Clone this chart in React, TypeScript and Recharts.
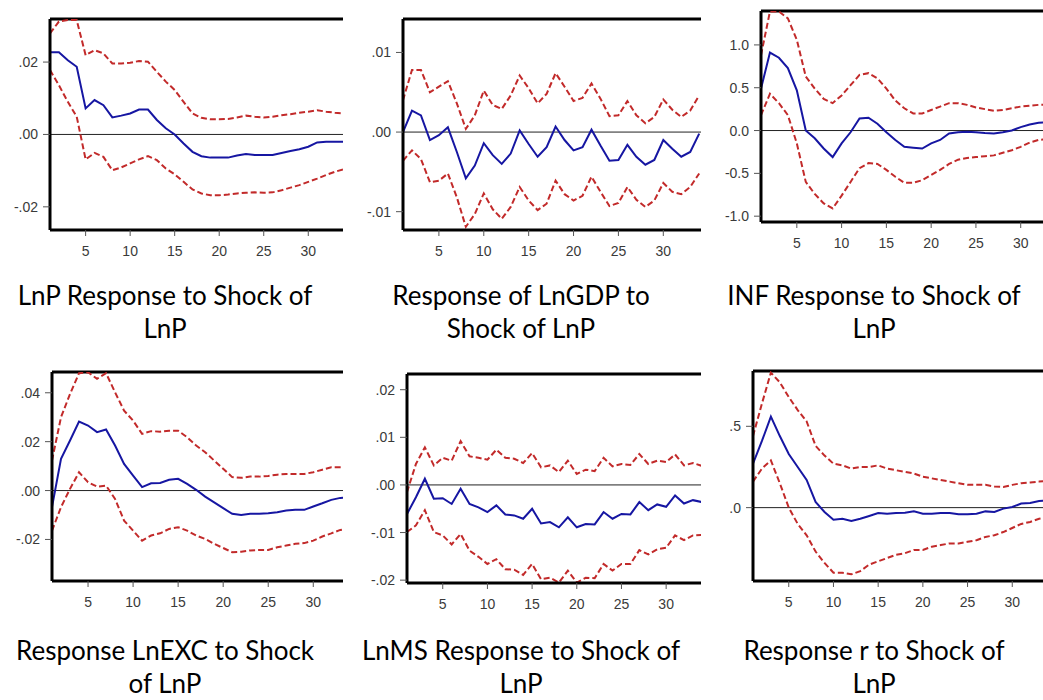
import { LineChart, Line, XAxis, YAxis, ReferenceLine } from 'recharts';

const X_TICKS = [5, 10, 15, 20, 25, 30];

// LnP response to LnP
const lnpMid = [0.0227, 0.0227, 0.0205, 0.0187, 0.0072, 0.0095, 0.0081, 0.0047, 0.0052, 0.0058, 0.0069, 0.0069, 0.004, 0.0017, 0.0, -0.0025, -0.0048, -0.006, -0.0064, -0.0064, -0.0064, -0.0058, -0.0054, -0.0057, -0.0057, -0.0057, -0.0051, -0.0046, -0.0041, -0.0034, -0.0022, -0.002, -0.002, -0.002];
const lnpUp = [0.0279, 0.0312, 0.0316, 0.0316, 0.0219, 0.0233, 0.0224, 0.0196, 0.0196, 0.0198, 0.0203, 0.0201, 0.0173, 0.0146, 0.0123, 0.009, 0.0058, 0.0046, 0.0042, 0.0042, 0.0043, 0.0047, 0.0052, 0.0049, 0.0047, 0.0049, 0.0053, 0.0056, 0.006, 0.0063, 0.0067, 0.0063, 0.006, 0.0058];
const lnpLo = [0.0178, 0.0136, 0.009, 0.0049, -0.0069, -0.0051, -0.0062, -0.0099, -0.0091, -0.008, -0.0069, -0.006, -0.0071, -0.0094, -0.011, -0.0131, -0.0152, -0.0163, -0.0168, -0.0168, -0.0166, -0.0163, -0.0161, -0.016, -0.0161, -0.016, -0.0154, -0.0147, -0.014, -0.0131, -0.0122, -0.0112, -0.0103, -0.0096];

// LnGDP response to LnP
const gdpMid = [0.0, 0.0027, 0.0021, -0.001, -0.0004, 0.0006, -0.0025, -0.0058, -0.0042, -0.0014, -0.0029, -0.004, -0.0027, 0.0002, -0.0015, -0.0031, -0.0019, 0.0007, -0.001, -0.0023, -0.0019, 0.0003, -0.0017, -0.0036, -0.0035, -0.0016, -0.0031, -0.0041, -0.0035, -0.001, -0.0021, -0.0031, -0.0025, -0.0002];
const gdpUp = [0.004, 0.0078, 0.0078, 0.005, 0.0057, 0.0064, 0.0036, 0.0004, 0.0021, 0.0052, 0.0034, 0.0029, 0.0046, 0.0071, 0.0055, 0.0036, 0.0048, 0.0074, 0.0057, 0.0039, 0.0043, 0.0061, 0.0042, 0.002, 0.0021, 0.0039, 0.0021, 0.0011, 0.0019, 0.0041, 0.0028, 0.0019, 0.0027, 0.0046];
const gdpLo = [-0.0036, -0.0023, -0.0034, -0.0063, -0.0061, -0.0052, -0.0082, -0.0119, -0.0103, -0.0077, -0.0097, -0.0109, -0.0094, -0.0069, -0.0086, -0.0098, -0.009, -0.0061, -0.0078, -0.0086, -0.008, -0.0056, -0.0075, -0.0093, -0.0089, -0.0069, -0.0085, -0.0094, -0.0086, -0.0064, -0.0075, -0.0078, -0.0069, -0.0052];

// INF response to LnP
const infMid = [0.49, 0.91, 0.85, 0.73, 0.47, 0.0, -0.09, -0.21, -0.31, -0.15, -0.02, 0.14, 0.15, 0.08, -0.02, -0.11, -0.19, -0.2, -0.21, -0.15, -0.11, -0.035, -0.02, -0.015, -0.02, -0.03, -0.035, -0.02, 0.0, 0.04, 0.07, 0.09, 0.1];
const infUp = [0.88, 1.39, 1.39, 1.31, 1.06, 0.63, 0.49, 0.37, 0.32, 0.41, 0.53, 0.65, 0.67, 0.61, 0.49, 0.35, 0.26, 0.2, 0.2, 0.24, 0.28, 0.32, 0.32, 0.3, 0.27, 0.25, 0.23, 0.24, 0.26, 0.28, 0.29, 0.3, 0.3];
const infLo = [0.18, 0.43, 0.32, 0.18, -0.15, -0.6, -0.74, -0.85, -0.91, -0.76, -0.6, -0.44, -0.38, -0.39, -0.46, -0.54, -0.61, -0.61, -0.58, -0.52, -0.46, -0.39, -0.34, -0.32, -0.31, -0.3, -0.29, -0.26, -0.23, -0.19, -0.14, -0.11, -0.1];

// LnEXC response to LnP
const excMid = [-0.0068, 0.013, 0.0205, 0.0282, 0.0266, 0.0239, 0.025, 0.0184, 0.0109, 0.0061, 0.0014, 0.003, 0.0031, 0.0044, 0.0048, 0.0027, 0.0003, -0.0025, -0.0048, -0.0072, -0.0095, -0.01, -0.0095, -0.0095, -0.0093, -0.0089, -0.0082, -0.0079, -0.0079, -0.0065, -0.0052, -0.0038, -0.003, -0.0027];
const excUp = [0.0123, 0.03, 0.0395, 0.048, 0.0484, 0.0457, 0.048, 0.0402, 0.0327, 0.0286, 0.0232, 0.0243, 0.0241, 0.0245, 0.0245, 0.0218, 0.0184, 0.0157, 0.0123, 0.0089, 0.0055, 0.0052, 0.0057, 0.0057, 0.006, 0.0065, 0.0068, 0.0068, 0.0068, 0.0075, 0.0085, 0.0095, 0.0095, 0.0095];
const excLo = [-0.0164, -0.0068, 0.0007, 0.0075, 0.0034, 0.0016, 0.002, -0.0034, -0.0123, -0.0164, -0.0205, -0.0184, -0.0175, -0.0157, -0.015, -0.0164, -0.0184, -0.0198, -0.0218, -0.0235, -0.0252, -0.025, -0.0245, -0.0243, -0.0243, -0.0232, -0.0225, -0.0218, -0.0215, -0.0205, -0.0188, -0.0175, -0.0161, -0.0155];

// LnMS response to LnP
const msMid = [-0.0061, -0.0026, 0.0013, -0.0029, -0.0028, -0.004, -0.0008, -0.004, -0.0047, -0.0057, -0.0043, -0.0062, -0.0064, -0.0071, -0.005, -0.0081, -0.0078, -0.0089, -0.0068, -0.0089, -0.0082, -0.0083, -0.0057, -0.0071, -0.0061, -0.0062, -0.0036, -0.0053, -0.0041, -0.0046, -0.0022, -0.0039, -0.0032, -0.0036];
const msUp = [-0.0015, 0.0044, 0.0079, 0.0041, 0.0057, 0.0051, 0.0092, 0.006, 0.0057, 0.0053, 0.0074, 0.0057, 0.0055, 0.0046, 0.0067, 0.0037, 0.0041, 0.0027, 0.0051, 0.0023, 0.0032, 0.0029, 0.0057, 0.0039, 0.0044, 0.0042, 0.0065, 0.0044, 0.0051, 0.0048, 0.0064, 0.0041, 0.0046, 0.004];
const msLo = [-0.0099, -0.0085, -0.0053, -0.0099, -0.0106, -0.0125, -0.0103, -0.0138, -0.0151, -0.0166, -0.0156, -0.0177, -0.0178, -0.0189, -0.0166, -0.0198, -0.0195, -0.0205, -0.018, -0.0205, -0.0195, -0.0196, -0.0166, -0.018, -0.0166, -0.0166, -0.0137, -0.0146, -0.0135, -0.0132, -0.0106, -0.0116, -0.0106, -0.0105];

// r response to LnP
const rMid = [0.27, 0.41, 0.56, 0.44, 0.33, 0.25, 0.17, 0.035, -0.027, -0.074, -0.068, -0.082, -0.068, -0.051, -0.033, -0.037, -0.033, -0.031, -0.023, -0.037, -0.037, -0.033, -0.033, -0.041, -0.041, -0.037, -0.023, -0.027, -0.006, 0.004, 0.025, 0.029, 0.041, 0.045];
const rUp = [0.44, 0.64, 0.83, 0.77, 0.68, 0.6, 0.53, 0.38, 0.32, 0.27, 0.26, 0.24, 0.25, 0.25, 0.26, 0.24, 0.23, 0.22, 0.21, 0.19, 0.18, 0.17, 0.16, 0.15, 0.14, 0.14, 0.14, 0.13, 0.127, 0.14, 0.15, 0.154, 0.16, 0.165];
const rLo = [0.16, 0.24, 0.29, 0.15, 0.0, -0.1, -0.17, -0.27, -0.34, -0.4, -0.4, -0.41, -0.39, -0.35, -0.33, -0.31, -0.29, -0.28, -0.26, -0.26, -0.24, -0.23, -0.22, -0.22, -0.21, -0.2, -0.18, -0.17, -0.15, -0.125, -0.1, -0.088, -0.068, -0.06];

const BLUE = '#1616a2';
const RED = '#c22a2a';

type Spec = {
  mid: number[];
  up: number[];
  lo: number[];
  yDomain: [number, number];
  yTicks: number[];
  yLabels: string[];
  box: { L: number; T: number; R: number; B: number };
  xMax: number;
  caption: [string, string];
  capCenter: number;
  capTop: number;
};

const panels: Spec[] = [
  {
    mid: lnpMid, up: lnpUp, lo: lnpLo,
    yDomain: [-0.0264, 0.0319], yTicks: [-0.02, 0, 0.02], yLabels: ['-.02', '.00', '.02'],
    box: { L: 49.5, T: 19, R: 342, B: 230 }, xMax: 33.9,
    caption: ['LnP Response to Shock of', 'LnP'], capCenter: 165, capTop: 279,
  },
  {
    mid: gdpMid, up: gdpUp, lo: gdpLo,
    yDomain: [-0.0123, 0.0142], yTicks: [-0.01, 0, 0.01], yLabels: ['-.01', '.00', '.01'],
    box: { L: 402.5, T: 18.5, R: 700, B: 229 }, xMax: 34.2,
    caption: ['Response of LnGDP to', 'Shock of LnP'], capCenter: 521, capTop: 279,
  },
  {
    mid: infMid, up: infUp, lo: infLo,
    yDomain: [-1.068, 1.396], yTicks: [-1, -0.5, 0, 0.5, 1], yLabels: ['-1.0', '-0.5', '0.0', '0.5', '1.0'],
    box: { L: 760.5, T: 11, R: 1043, B: 221.5 }, xMax: 32.6,
    caption: ['INF Response to Shock of', 'LnP'], capCenter: 874, capTop: 279,
  },
  {
    mid: excMid, up: excUp, lo: excLo,
    yDomain: [-0.037, 0.0485], yTicks: [-0.02, 0, 0.02, 0.04], yLabels: ['-.02', '.00', '.02', '.04'],
    box: { L: 51.5, T: 371.5, R: 342, B: 580.5 }, xMax: 33.3,
    caption: ['Response LnEXC to Shock', 'of LnP'], capCenter: 165, capTop: 634,
  },
  {
    mid: msMid, up: msUp, lo: msLo,
    yDomain: [-0.0206, 0.0233], yTicks: [-0.02, -0.01, 0, 0.01, 0.02], yLabels: ['-.02', '-.01', '.00', '.01', '.02'],
    box: { L: 406.5, T: 373.5, R: 700, B: 582 }, xMax: 33.9,
    caption: ['LnMS Response to Shock of', 'LnP'], capCenter: 521, capTop: 634,
  },
  {
    mid: rMid, up: rUp, lo: rLo,
    yDomain: [-0.451, 0.84], yTicks: [0, 0.5], yLabels: ['.0', '.5'],
    box: { L: 752.5, T: 370.5, R: 1043, B: 580.5 }, xMax: 33.55,
    caption: ['Response r to Shock of', 'LnP'], capCenter: 874, capTop: 634,
  },
];

const tickFont = { fill: '#3a3a3a', fontSize: 14, fontFamily: '"Liberation Sans", Arial, sans-serif' };

function IrfPanel({ spec }: { spec: Spec }) {
  const { L, T, R, B } = spec.box;
  const yw = 48;
  const padTop = 4;
  const xh = 34;
  const width = Math.round(R - L + yw);
  const height = Math.round(B - T + padTop + xh);
  const rows = spec.mid.map((v, i) => ({ t: i + 1, mid: v, up: spec.up[i], lo: spec.lo[i] }));
  const fmtY = (v: number) => {
    const i = spec.yTicks.findIndex((k) => Math.abs(k - v) < 1e-9);
    return i >= 0 ? spec.yLabels[i] : '';
  };

  return (
    <>
      <div style={{ position: 'absolute', left: L - yw, top: T - padTop, width, height }}>
        <LineChart width={width} height={height} data={rows} margin={{ top: padTop, right: 0, bottom: 0, left: 0 }}>
          <XAxis
            dataKey="t"
            type="number"
            domain={[1, spec.xMax]}
            allowDataOverflow
            ticks={X_TICKS}
            interval={0}
            height={xh}
            tickSize={6}
            tickMargin={10}
            axisLine={{ stroke: '#000', strokeWidth: 3 }}
            tickLine={{ stroke: '#555' }}
            tick={tickFont}
          />
          <YAxis
            type="number"
            domain={spec.yDomain}
            allowDataOverflow
            ticks={spec.yTicks}
            interval={0}
            width={yw}
            tickSize={7}
            tickMargin={5}
            tickFormatter={fmtY}
            axisLine={{ stroke: '#000', strokeWidth: 3 }}
            tickLine={{ stroke: '#555' }}
            tick={tickFont}
          />
          <ReferenceLine y={0} stroke="#222" strokeWidth={1} />
          <ReferenceLine y={spec.yDomain[1]} stroke="#000" strokeWidth={3} />
          <Line type="linear" dataKey="up" stroke={RED} strokeWidth={2} strokeDasharray="6 3" dot={false} isAnimationActive={false} />
          <Line type="linear" dataKey="lo" stroke={RED} strokeWidth={2} strokeDasharray="6 3" dot={false} isAnimationActive={false} />
          <Line type="linear" dataKey="mid" stroke={BLUE} strokeWidth={2} dot={false} isAnimationActive={false} />
        </LineChart>
      </div>
      <div
        style={{
          position: 'absolute',
          left: spec.capCenter - 180,
          top: spec.capTop,
          width: 360,
          textAlign: 'center',
          fontFamily: 'Lato, "Open Sans", sans-serif',
          fontSize: 26,
          lineHeight: '33px',
          color: '#000',
          whiteSpace: 'nowrap',
        }}
      >
        {spec.caption[0]}
        <br />
        {spec.caption[1]}
      </div>
    </>
  );
}

export default function App() {
  return (
    <div style={{ position: 'absolute', left: 0, top: 0, width: 1043, height: 700, background: '#fff', overflow: 'hidden' }}>
      {panels.map((p, i) => (
        <IrfPanel key={i} spec={p} />
      ))}
    </div>
  );
}
